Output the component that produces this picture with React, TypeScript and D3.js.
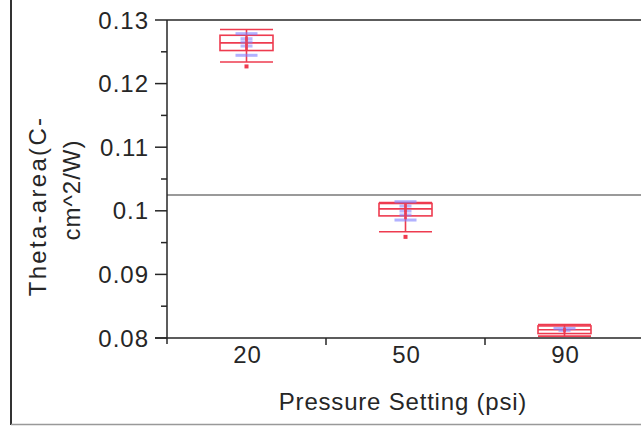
import React from "react";
import * as d3 from "d3";

// pressure settings and box summaries
const categories = ["20", "50", "90"];
const whiskerHigh = [0.1285, 0.1013, 0.0821];
const q3 = [0.1276, 0.10115, 0.0819];
const medians = [0.1264, 0.1003, 0.0813];
const q1 = [0.1252, 0.0992, 0.0807];
const whiskerLow = [0.1234, 0.0967, 0.0803];
const outliers = [[0.1227], [0.0959], []];
// blue marks: wide ones at outer quantiles, short ones at inner points
const blueWide = [[0.12785, 0.12445], [0.10143, 0.09855], [0.0815]];
const blueShort = [[0.12706, 0.12654, 0.12591], [0.10075, 0.09997, 0.09934], [0.0812]];
const redPoints = [
  [0.1272, 0.1268, 0.1263, 0.1259, 0.1255],
  [0.1009, 0.1005, 0.1001, 0.0998, 0.0994, 0.0989],
  [0.0814, 0.0811],
];
const grandMean = 0.1025;
const yTicks = [0.08, 0.09, 0.1, 0.11, 0.12, 0.13];
const yMinor = [0.085, 0.095, 0.105, 0.115, 0.125];

const W = 641;
const H = 426;
const font = "'Liberation Sans', Arial, sans-serif";
const red = "#ee3b4f";
const blue = "#7f7fff";
const ink = "#262626";

export default function App() {
  const x = d3.scaleBand<string>().domain(categories).range([167, 644]);
  const y = d3.scaleLinear().domain([0.08, 0.13]).range([338, 20]);
  const left = 167;
  const bw = 53;
  const fmt = (v: number) => d3.format("~g")(+v.toFixed(3));

  return (
    <div style={{ position: "fixed", left: 0, top: 0 }}>
      <svg width={W} height={H} style={{ display: "block", background: "#fff" }}>
        {/* outer frame */}
        <line x1={11} x2={11} y1={0} y2={425} stroke="#333" strokeWidth={2} />
        <line x1={11} x2={W} y1={424.5} y2={424.5} stroke="#999" strokeWidth={1.5} />

        {/* grand mean reference */}
        <line x1={left} x2={W} y1={y(grandMean)} y2={y(grandMean)} stroke="#9a9a9a" strokeWidth={2} />

        {/* boxes */}
        {categories.map((c, i) => {
          const cx = (x(c) as number) + x.bandwidth() / 2;
          const x0 = cx - bw / 2;
          return (
            <g key={c}>
              <line x1={cx} x2={cx} y1={y(whiskerHigh[i])} y2={y(whiskerLow[i])} stroke={red} strokeWidth={1.6} />
              <rect x={x0} y={y(q3[i])} width={bw} height={y(q1[i]) - y(q3[i])} fill="none" stroke={red} strokeWidth={1.6} />
              <line x1={x0} x2={x0 + bw} y1={y(medians[i])} y2={y(medians[i])} stroke={red} strokeWidth={1.6} />
              <line x1={x0} x2={x0 + bw} y1={y(whiskerHigh[i])} y2={y(whiskerHigh[i])} stroke={red} strokeWidth={1.6} />
              <line x1={x0} x2={x0 + bw} y1={y(whiskerLow[i])} y2={y(whiskerLow[i])} stroke={red} strokeWidth={1.6} />
              {blueWide[i].map((v, j) => (
                <line key={"w" + j} x1={cx - 11} x2={cx + 11} y1={y(v)} y2={y(v)} stroke={blue} strokeWidth={3} opacity={0.6} />
              ))}
              {blueShort[i].map((v, j) => (
                <line key={"s" + j} x1={cx - 6} x2={cx + 6} y1={y(v)} y2={y(v)} stroke={blue} strokeWidth={3} opacity={0.55} />
              ))}
              {redPoints[i].map((v, j) => (
                <rect key={"r" + j} x={cx - 1.5} y={y(v) - 1.5} width={3} height={3} fill={red} opacity={0.8} />
              ))}
              {outliers[i].map((v, j) => (
                <rect key={"o" + j} x={cx - 2} y={y(v) - 2} width={4} height={4} fill={red} />
              ))}
            </g>
          );
        })}

        {/* plot top border */}
        <line x1={left} x2={W} y1={20} y2={20} stroke={ink} strokeWidth={1.5} />

        {/* y axis */}
        <line x1={left} x2={left} y1={20} y2={344} stroke={ink} strokeWidth={1.5} />
        {yTicks.map((t) => (
          <g key={t}>
            <line x1={155} x2={left} y1={y(t)} y2={y(t)} stroke={ink} strokeWidth={1.5} />
            <text x={149} y={y(t)} dy="0.36em" textAnchor="end" fontFamily={font} fontSize={24} fill={ink} letterSpacing={1}>
              {fmt(t)}
            </text>
          </g>
        ))}
        {yMinor.map((t) => (
          <line key={t} x1={161} x2={left} y1={y(t)} y2={y(t)} stroke={ink} strokeWidth={1.5} />
        ))}

        {/* x axis */}
        <line x1={155} x2={W} y1={338} y2={338} stroke={ink} strokeWidth={1.5} />
        {categories.slice(1).map((c) => (
          <line key={c} x1={x(c) as number} x2={x(c) as number} y1={338} y2={345} stroke={ink} strokeWidth={1.5} />
        ))}
        {categories.map((c) => (
          <text key={c} x={(x(c) as number) + x.bandwidth() / 2 + 1} y={363} textAnchor="middle" fontFamily={font} fontSize={24} fill={ink} letterSpacing={0.8}>
            {c}
          </text>
        ))}

        {/* axis titles */}
        <text x={403} y={410} textAnchor="middle" fontFamily={font} fontSize={24} fill={ink} letterSpacing={0.8}>
          Pressure Setting (psi)
        </text>
        <g transform="rotate(-90)">
          <text x={-206} y={46} textAnchor="middle" fontFamily={font} fontSize={24} fill={ink} letterSpacing={2.3}>
            Theta-area(C-
          </text>
          <text x={-190} y={80} textAnchor="middle" fontFamily={font} fontSize={24} fill={ink} letterSpacing={1}>
            cm^2/W)
          </text>
        </g>
      </svg>
    </div>
  );
}
